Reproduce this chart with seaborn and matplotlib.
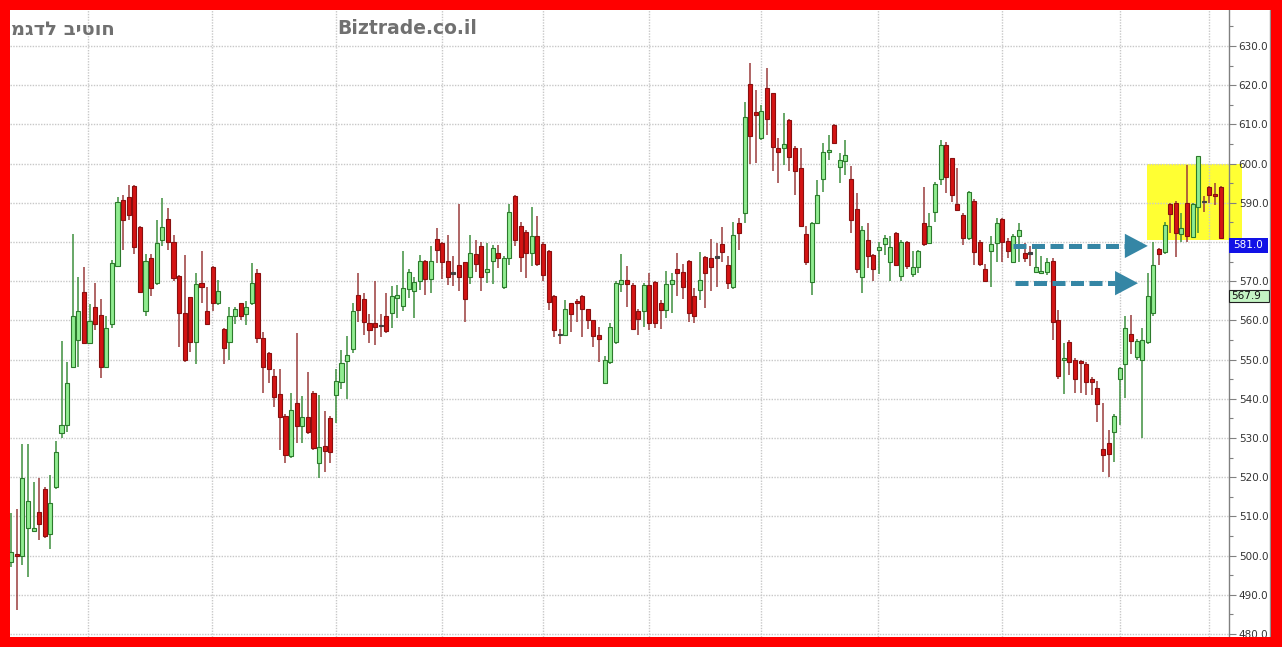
import numpy as np
import pandas as pd
import matplotlib.pyplot as plt
import matplotlib.transforms as mtransforms
from matplotlib.patches import Rectangle, Polygon
from matplotlib.ticker import MultipleLocator, FuncFormatter
import seaborn as sns

# daily OHLC (oldest first)
opens = [498.3, 500.5, 500.0, 507.0, 506.3, 511.0, 517.0, 505.5, 517.6, 531.3,
         533.3, 548.0, 555.0, 567.3, 554.3, 563.3, 561.4, 548.0, 559.0, 574.0,
         590.6, 591.6, 594.3, 583.8, 562.3, 576.0, 569.5, 580.5, 585.8, 580.0,
         571.2, 561.8, 565.9, 554.6, 569.5, 562.5, 573.7, 564.5, 557.7, 554.6,
         561.0, 564.4, 561.6, 564.4, 572.0, 555.4, 551.8, 545.8, 541.2, 535.6,
         525.4, 539.0, 533.0, 535.3, 541.6, 523.5, 528.0, 535.0, 541.0, 544.4,
         549.6, 552.6, 566.5, 565.4, 559.4, 559.4, 558.8, 561.0, 561.8, 565.6,
         563.7, 568.0, 567.5, 570.0, 575.2, 570.6, 580.7, 579.8, 575.2, 572.1,
         574.1, 574.8, 571.0, 576.9, 579.0, 572.4, 575.2, 577.1, 568.4, 575.8,
         591.7, 584.2, 582.6, 577.1, 581.6, 579.5, 577.8, 566.3, 556.4, 556.3,
         564.4, 565.0, 566.3, 562.8, 560.0, 556.3, 544.0, 549.5, 554.6, 569.2,
         570.3, 569.0, 562.3, 562.3, 569.0, 569.9, 564.4, 562.7, 569.2, 573.1,
         572.4, 575.2, 566.1, 567.8, 576.1, 575.8, 576.2, 579.4, 574.1, 568.6,
         584.8, 587.5, 620.2, 613.1, 606.5, 619.2, 618.0, 604.0, 604.0, 611.0,
         604.0, 598.8, 582.0, 569.7, 584.9, 596.1, 603.0, 609.8, 599.1, 600.7,
         596.0, 588.4, 571.0, 580.5, 576.6, 578.0, 579.5, 575.0, 582.2, 571.2,
         580.0, 571.8, 573.7, 584.9, 579.7, 587.7, 596.0, 604.7, 601.4, 589.6,
         587.0, 581.0, 590.5, 580.0, 573.0, 577.8, 579.7, 585.8, 580.3, 575.0,
         581.4, 577.1, 577.2, 572.4, 572.0, 572.4, 575.2, 560.0, 549.9, 554.6,
         550.0, 549.7, 549.0, 545.0, 542.7, 527.1, 528.8, 531.6, 545.0, 549.0,
         556.5, 550.7, 549.9, 554.6, 561.8, 578.1, 577.5, 589.7, 590.0, 582.0,
         590.0, 581.2, 589.0, 590.4, 594.0, 592.2, 594.0]
highs = [510.9, 512.0, 528.5, 528.5, 518.7, 519.7, 517.5, 520.6, 529.3, 554.7,
         549.5, 582.0, 571.0, 573.5, 564.2, 569.5, 565.5, 561.0, 575.4, 591.6,
         592.0, 594.5, 594.5, 584.0, 577.0, 577.0, 585.6, 591.2, 588.6, 581.8,
         571.5, 576.7, 566.0, 572.0, 577.8, 568.6, 574.0, 570.3, 558.0, 563.5,
         563.4, 564.5, 565.0, 574.6, 573.2, 557.0, 552.0, 547.5, 547.5, 536.0,
         541.6, 556.7, 540.7, 546.8, 542.0, 541.0, 537.0, 535.5, 547.5, 552.4,
         556.0, 564.4, 572.0, 567.0, 561.6, 570.0, 561.6, 567.0, 568.8, 569.0,
         577.8, 573.0, 571.0, 576.7, 575.5, 579.0, 583.6, 580.0, 581.8, 576.4,
         589.6, 575.0, 581.8, 580.5, 580.0, 579.8, 579.2, 579.2, 576.5, 589.6,
         592.0, 585.0, 583.0, 589.0, 586.6, 580.0, 578.0, 566.5, 557.8, 565.2,
         564.5, 565.5, 566.5, 563.0, 560.0, 558.4, 551.0, 559.4, 570.0, 577.0,
         574.0, 569.5, 563.0, 569.5, 572.0, 570.0, 565.2, 572.6, 572.0, 577.1,
         574.3, 575.5, 568.2, 577.5, 576.5, 580.7, 579.8, 583.8, 576.5, 585.0,
         586.0, 615.8, 625.7, 618.8, 615.0, 624.3, 618.0, 606.5, 612.8, 611.5,
         604.5, 604.0, 584.0, 585.0, 595.7, 605.2, 607.3, 610.0, 602.6, 606.0,
         599.4, 592.4, 584.0, 584.9, 577.0, 580.1, 581.8, 581.4, 582.5, 580.5,
         580.3, 577.8, 578.0, 593.9, 587.5, 595.4, 606.0, 605.5, 601.5, 598.8,
         587.5, 593.0, 591.0, 580.5, 574.4, 581.4, 586.0, 586.0, 581.0, 582.0,
         584.8, 579.8, 579.0, 579.0, 576.4, 576.0, 576.0, 562.7, 554.2, 555.0,
         550.5, 550.0, 549.5, 545.5, 544.6, 539.0, 532.0, 536.0, 548.0, 561.0,
         561.4, 555.2, 558.0, 572.0, 580.0, 578.5, 585.2, 590.0, 590.5, 587.5,
         599.6, 590.0, 602.0, 591.7, 594.2, 595.0, 594.2]
lows = [497.0, 486.0, 497.5, 494.5, 506.0, 504.0, 504.5, 501.7, 517.0, 530.0,
        531.6, 548.0, 548.0, 554.0, 554.0, 557.6, 545.3, 548.0, 558.0, 573.5,
        578.0, 585.7, 577.0, 567.0, 561.0, 566.2, 569.0, 579.0, 578.0, 570.0,
        553.3, 549.5, 552.0, 549.0, 564.4, 558.8, 562.3, 564.0, 549.0, 550.0,
        559.0, 560.0, 558.8, 564.0, 554.2, 541.6, 544.0, 538.0, 527.0, 523.5,
        525.0, 528.6, 528.6, 531.0, 527.0, 519.7, 521.4, 523.5, 533.8, 542.4,
        540.0, 551.6, 559.7, 556.3, 554.3, 553.7, 555.8, 556.7, 558.0, 560.5,
        562.4, 565.6, 560.5, 567.8, 566.5, 567.0, 574.7, 570.5, 569.0, 568.8,
        567.6, 559.7, 569.3, 572.4, 567.6, 569.5, 569.3, 573.3, 568.0, 574.1,
        579.0, 572.4, 570.7, 573.9, 574.0, 570.0, 562.7, 555.7, 553.9, 556.0,
        557.0, 559.7, 555.7, 557.8, 553.3, 549.5, 544.0, 549.0, 554.0, 567.3,
        563.5, 557.5, 556.3, 558.4, 557.6, 558.0, 557.7, 560.5, 562.0, 566.2,
        565.4, 559.7, 559.3, 565.2, 563.1, 567.6, 568.6, 575.0, 567.9, 568.0,
        578.0, 584.8, 600.0, 600.2, 606.0, 607.3, 598.2, 595.1, 599.6, 598.2,
        592.0, 584.0, 574.1, 566.5, 584.5, 592.8, 601.0, 605.0, 595.1, 597.1,
        582.2, 572.0, 566.9, 573.3, 570.0, 571.8, 576.7, 570.1, 574.0, 570.0,
        573.0, 571.0, 572.0, 579.0, 579.5, 585.0, 594.6, 592.4, 590.3, 588.0,
        579.2, 580.5, 574.1, 573.8, 569.9, 568.6, 575.0, 575.0, 576.0, 575.0,
        575.0, 575.0, 573.9, 572.0, 571.8, 571.6, 555.0, 545.0, 541.3, 546.0,
        541.6, 541.5, 541.0, 541.0, 534.0, 521.4, 520.0, 524.0, 533.3, 540.1,
        551.3, 550.0, 530.0, 554.0, 561.0, 574.1, 577.0, 582.2, 576.1, 580.0,
        580.0, 581.0, 582.2, 587.7, 589.9, 589.4, 580.9]
closes = [500.9, 499.8, 519.7, 514.0, 507.0, 508.0, 505.0, 513.3, 526.5, 533.3,
          544.0, 561.0, 562.4, 554.3, 559.8, 559.0, 548.0, 558.0, 574.6, 590.2,
          585.7, 587.0, 578.6, 567.3, 575.2, 568.2, 579.7, 583.8, 580.0, 570.7,
          562.0, 550.0, 554.6, 569.3, 568.6, 559.1, 564.4, 567.6, 552.9, 561.0,
          562.8, 561.0, 563.5, 569.6, 555.4, 548.0, 547.5, 540.4, 535.3, 525.7,
          537.1, 533.0, 535.3, 531.6, 527.4, 527.6, 526.8, 526.3, 544.6, 549.2,
          551.2, 562.5, 562.7, 559.7, 557.6, 558.4, 558.6, 557.4, 566.2, 566.5,
          568.2, 572.3, 569.7, 575.2, 570.6, 575.2, 578.0, 574.8, 571.0, 571.9,
          571.0, 565.4, 577.1, 574.4, 571.0, 573.1, 578.4, 576.0, 576.0, 587.6,
          580.5, 576.1, 577.1, 581.6, 574.4, 571.6, 564.8, 557.6, 556.2, 562.8,
          561.6, 564.4, 562.8, 560.0, 556.0, 555.2, 550.0, 558.4, 569.5, 570.3,
          569.2, 557.7, 560.3, 569.0, 559.3, 559.3, 562.7, 569.2, 570.3, 572.0,
          568.6, 562.0, 561.0, 570.3, 572.0, 573.7, 576.0, 577.5, 569.5, 581.8,
          582.4, 612.0, 607.0, 612.4, 613.5, 611.3, 604.2, 603.0, 605.0, 601.6,
          598.0, 584.1, 575.0, 584.9, 592.0, 602.9, 603.5, 605.2, 600.9, 602.2,
          585.7, 573.0, 583.0, 576.4, 573.0, 578.8, 580.9, 578.6, 574.1, 580.1,
          574.0, 573.6, 577.8, 579.5, 584.0, 594.8, 604.7, 596.7, 592.0, 588.2,
          581.0, 592.8, 577.5, 574.4, 570.0, 579.5, 584.8, 580.1, 577.7, 581.4,
          583.1, 576.0, 577.0, 573.7, 572.7, 575.0, 559.7, 545.8, 550.3, 549.5,
          545.0, 549.2, 544.4, 544.4, 538.7, 525.7, 526.0, 535.7, 547.8, 558.0,
          554.8, 554.8, 555.0, 566.2, 574.1, 576.9, 584.3, 587.1, 582.2, 583.5,
          581.4, 589.7, 602.0, 590.2, 592.0, 591.7, 581.0]

month_marks = [13.8, 35.8, 58.0, 77.0, 94.9, 113.9, 133.9, 154.9, 177.0, 198.0, 214.0]
last_label = 581.0
prev_label = 567.9
zone_x = [202.9, 219.8]
zone_y = [580.6, 600.0]
arrow_start = [178.9, 179.3]
arrow_tip = [203.0, 201.25]
arrow_price = [579.0, 569.5]
title_he = "מגדל ביטוח"
site = "Biztrade.co.il"

df = pd.DataFrame({"open": opens, "high": highs, "low": lows, "close": closes})
df["i"] = np.arange(len(df))
df["up"] = df["close"] >= df["open"]

W, H = 1282, 647
sns.set_style("white")
plt.rcParams["font.family"] = ["DejaVu Sans"]

fig = plt.figure(figsize=(W / 100, H / 100), dpi=100)
fig.patch.set_facecolor("white")
ax = fig.add_axes([10 / W, (H - 636.5) / H, (1229 - 10) / W, (636.5 - 10) / H])
ax.set_facecolor("white")

# wicks
wick_col = np.where(df["up"], "#3f8f3f", "#9a3c3c")
ax.vlines(df["i"], df["low"], df["high"], colors=wick_col, lw=1.1, zorder=2)

# bodies
body_lo = np.minimum(df["open"], df["close"])
body_h = np.maximum((df["close"] - df["open"]).abs(), 0.35)
doji = (df["close"] - df["open"]).abs() < 0.3
fill = np.where(df["up"], "#90ec90", "#d41414")
edge = np.where(df["up"], "#2c7a2c", "#8a0f0f")
fill = np.where(doji, "#404040", fill)
edge = np.where(doji, "#404040", edge)
ax.bar(df["i"], body_h, bottom=body_lo, width=0.72, color=fill,
       edgecolor=edge, linewidth=0.8, zorder=3)

# highlight zone (runs into the price scale)
ax.add_patch(Rectangle((zone_x[0], zone_y[0]), zone_x[1] - zone_x[0], zone_y[1] - zone_y[0],
                       facecolor="#ffff33", edgecolor="none", zorder=0.3, clip_on=False))

# dashed arrows
arrow_col = "#3586a5"
for x0, x1, p in zip(arrow_start, arrow_tip, arrow_price):
    head_len = 4.1
    ax.plot([x0, x1 - head_len], [p, p], color=arrow_col, lw=3.6,
            dashes=(2.6, 1.1), solid_capstyle="butt", dash_capstyle="butt", zorder=5)
    ax.add_patch(Polygon([[x1 - head_len, p + 3.1], [x1, p], [x1 - head_len, p - 3.1]],
                         closed=True, facecolor=arrow_col, edgecolor="none", zorder=5))

ax.set_xlim(-0.2, 217.5)
ax.set_ylim(479.36, 639.18)

# grid and price scale (the 580 label sits under the last-price flag)
ax.set_xticks(month_marks)
ax.tick_params(axis="x", length=0, labelbottom=False)
ax.yaxis.tick_right()
ax.yaxis.set_major_locator(MultipleLocator(10))
ax.yaxis.set_minor_locator(MultipleLocator(5))
ax.yaxis.set_major_formatter(FuncFormatter(lambda v, pos: "" if abs(v - 580) < 0.1 else f"{v:.1f}"))
ax.tick_params(axis="y", which="major", length=5, width=0.8, color="#808080",
               labelsize=7.5, labelcolor="#333333", pad=2)
ax.tick_params(axis="y", which="minor", length=3, width=0.8, color="#808080")
ax.grid(True, which="major", color="#c8c8c8", linestyle=(0, (1, 1)), lw=1)
for s in ["left", "top", "bottom"]:
    ax.spines[s].set_visible(False)
ax.spines["right"].set_color("#808080")
ax.spines["right"].set_linewidth(1)

# price flags on the scale
tr = mtransforms.blended_transform_factory(ax.transAxes, ax.transData)
flag_w = 38.5 / (1229 - 10)
ax.add_patch(Rectangle((1.0, last_label - 3.7), flag_w, 3.7, transform=tr,
                       facecolor="#1212e6", edgecolor="none", zorder=6, clip_on=False))
ax.text(1.0 + flag_w / 2, last_label - 1.85, f"{last_label:.1f}", transform=tr,
        ha="center", va="center", fontsize=7.5, color="white", zorder=7, clip_on=False)
flag_w2 = 40 / (1229 - 10)
ax.add_patch(Rectangle((1.0, 564.8), flag_w2, 3.0, transform=tr,
                       facecolor="#c4f4c4", edgecolor="#202020", lw=0.8, zorder=6, clip_on=False))
ax.text(1.0 + 2 / (1229 - 10), 566.3, f"{prev_label:.1f}", transform=tr,
        ha="left", va="center", fontsize=7.5, color="#111111", zorder=7, clip_on=False)

# header texts
fig.text(11 / W, 1 - 29 / H, title_he, fontsize=14, fontweight="bold",
         color="#707070", ha="left", va="center")
fig.text(337 / W, 1 - 29 / H, site, fontsize=13.5, fontweight="bold",
         color="#707070", ha="left", va="center")

# red frame
red = "#ff0000"
for x, y, w, h in [(0, 0, W, 10), (0, 636.5, W, H - 636.5), (0, 0, 10, H), (1271, 0, W - 1271, H)]:
    fig.patches.append(Rectangle((x / W, 1 - (y + h) / H), w / W, h / H, transform=fig.transFigure,
                                 facecolor=red, edgecolor="none", zorder=20))
fig.lines.append(plt.Line2D([1269.5 / W, 1269.5 / W], [1 - 636.5 / H, 1 - 10 / H],
                            transform=fig.transFigure, color="#909090", lw=1, zorder=19))

fig.savefig("out.png", dpi=100)
